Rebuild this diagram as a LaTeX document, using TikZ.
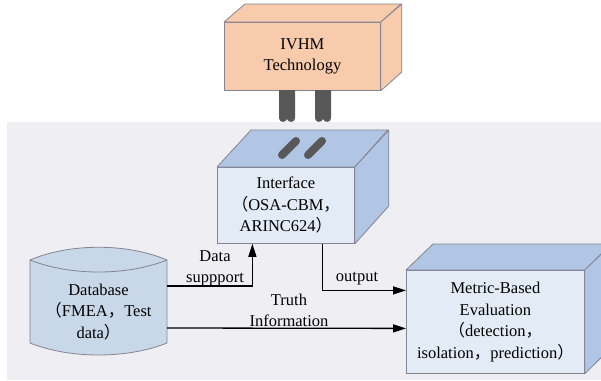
\documentclass[tikz,border=0pt]{standalone}
\usepackage{fontspec}
\setmainfont{Liberation Serif}
\newfontfamily\cjk{Noto Sans CJK SC}
\usetikzlibrary{arrows.meta}
\newcommand\fw[1]{{\cjk #1}}

\definecolor{bgpanel}{RGB}{239,238,243}
\definecolor{peach}{RGB}{248,203,173}
\definecolor{paleblue}{RGB}{227,235,246}
\definecolor{steelface}{RGB}{177,197,228}
\definecolor{dbfill}{RGB}{201,216,233}
\definecolor{edgegray}{RGB}{130,132,145}
\definecolor{peggray}{RGB}{88,88,88}

\tikzset{
  txt/.style={font=\fontsize{16.5}{21.5}\selectfont, align=center, inner sep=0pt},
  front/.style={txt, draw=edgegray, line width=0.8pt, anchor=north west},
  face/.style={draw=edgegray, line width=0.8pt, line join=round},
  conn/.style={draw=black, line width=1.3pt, -{Triangle[length=13pt,width=8pt]}},
  bar/.style={draw=peggray, line width=8pt, line cap=round},
}

\begin{document}
\begin{tikzpicture}[x=1pt, y=-1pt]
\useasboundingbox (0,0) rectangle (601,380);
\clip (0,0) rectangle (601,380);

% shaded panel holding the evaluation system
\fill[bgpanel] (7,122) rectangle (601,380);

% IVHM technology block
\node[front, fill=peach, minimum width=156pt, minimum height=68pt] (ivhm) at (224,22) {IVHM\\Technology};
\filldraw[face, fill=peach] (ivhm.north west) -- ++(21,-18) -- ++(156,0) -- (ivhm.north east) -- cycle;
\filldraw[face, fill=peach] (ivhm.north east) -- ++(21,-18) -- ++(0,68) -- (ivhm.south east) -- cycle;

% plug pins
\fill[peggray] (279,90) -- (295,90) -- (295,118)
  .. controls (295,123) and (288,123) .. (287,119)
  .. controls (286,123) and (279,123) .. (279,118) -- cycle;
\fill[peggray] (315,90) -- (331,90) -- (331,118)
  .. controls (331,123) and (324,123) .. (323,119)
  .. controls (322,123) and (315,123) .. (315,118) -- cycle;

% interface block
\node[front, fill=paleblue, minimum width=137pt, minimum height=76pt] (iface) at (217,167)
  {Interface\\\fw{（}OSA-CBM\fw{，}\\ARINC624\fw{）}};
\filldraw[face, fill=steelface] (iface.north west) -- ++(34,-37) -- ++(137,0) -- (iface.north east) -- cycle;
\filldraw[face, fill=steelface] (iface.north east) -- ++(34,-37) -- ++(0,76) -- (iface.south east) -- cycle;
% sockets on the interface top
\draw[bar] (282,155) -- (296,141);
\draw[bar] (308,155) -- (322,141);

% metric-based evaluation block
\node[front, fill=paleblue, minimum width=178pt, minimum height=103pt] (metric) at (406,270)
  {Metric-Based\\Evaluation\\\fw{（}detection\fw{，}\\isolation\fw{，}prediction\fw{）}};
\filldraw[face, fill=steelface] (metric.north west) -- ++(27,-26) -- ++(178,0) -- (metric.north east) -- cycle;
\filldraw[face, fill=steelface] (metric.north east) -- ++(27,-26) -- ++(0,103) -- (metric.south east) -- cycle;

% database cylinder
\filldraw[face, fill=dbfill] (30,260) .. controls (70,243) and (127,243) .. (167,260)
  -- (167,343) .. controls (127,359) and (70,359) .. (30,343) -- cycle;
\draw[face] (30,260) .. controls (70,276) and (127,276) .. (167,260);
\node[txt, minimum width=137pt] (db) at (98.5,312) {Database\\\fw{（}FMEA\fw{，}Test\\data\fw{）}};

% connectors
\draw[conn] ([yshift=26pt]db.east) -| ([xshift=-33.5pt]iface.south);
\draw[conn] ([xshift=36.5pt]iface.south) |- ([yshift=31.5pt]metric.west);
\draw[conn] ([yshift=-16pt]db.east) -- ([yshift=-6.5pt]metric.west);

% connector labels
\node[txt] (lsupport) at (215,268.5) {Data\\suppport};
\node[txt] (ltruth) at (289,310.5) {Truth\\Information};
\node[txt] (loutput) at (357,279) {output};
\end{tikzpicture}
\end{document}
